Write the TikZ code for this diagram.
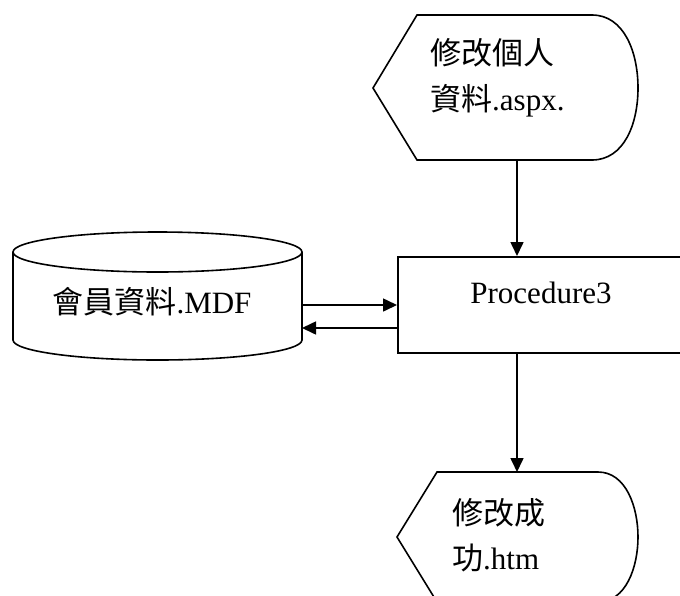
\documentclass[tikz,border=0pt]{standalone}
\usepackage{fontspec}
\setmainfont{Liberation Serif}
\newfontfamily\cjk{Noto Sans CJK TC}
\usetikzlibrary{arrows.meta}
\tikzset{
  outline/.style={draw=black, line width=1.6pt},
  arr/.style={line width=1.6pt, -{Triangle[length=14pt,width=13pt]}},
  lbl/.style={font=\fontsize{31}{36}\selectfont, inner sep=0pt},
}
\begin{document}
\begin{tikzpicture}[x=1pt,y=-1pt]
\useasboundingbox (0,0) rectangle (680,595);
% top display shape
\draw[outline] (417,15) -- (592,15) .. controls (624,15) and (638,52) .. (638,88)
  .. controls (638,124) and (624,160) .. (592,160) -- (417,160) -- (373,88) -- cycle;
\coordinate (topout) at (517,160);
\node[lbl, anchor=west] (t1) at (430,53) {\cjk 修改個人};
\node[lbl, anchor=west] (t2) at (430,101) {\cjk 資料\normalfont.aspx.};
% process box
\node[outline, anchor=north west, minimum width=290pt, minimum height=96pt, inner sep=0pt] (proc) at (397,256) {};
\node[lbl] (proclbl) at (541,293) {Procedure3};
% database cylinder
\draw[outline, fill=white] (13,252) -- (13,340) arc[start angle=180, end angle=360, x radius=144.5, y radius=-20] -- (302,252);
\draw[outline] (157.5,252) ellipse[x radius=144.5, y radius=20];
\node[lbl] (dblbl) at (152,302) {\cjk 會員資料\normalfont.MDF};
\coordinate (dbin) at (302,305);
\coordinate (dbout) at (302,328);
% bottom display shape
\draw[outline] (437,472) -- (598,472) .. controls (626,472) and (638,507) .. (638,537)
  .. controls (638,567) and (626,602) .. (598,602) -- (437,602) -- (397,537) -- cycle;
\coordinate (botin) at (517,472);
\node[lbl, anchor=west] (b1) at (452,513) {\cjk 修改成};
\node[lbl, anchor=west] (b2) at (452,558) {\cjk 功\normalfont.htm};
% connectors
\draw[arr] (topout) -- (topout |- proc.north);
\draw[arr] (dbin) -- (dbin -| proc.west);
\draw[arr] (dbout -| proc.west) -- (dbout);
\draw[arr] (botin |- proc.south) -- (botin);
\end{tikzpicture}
\end{document}
